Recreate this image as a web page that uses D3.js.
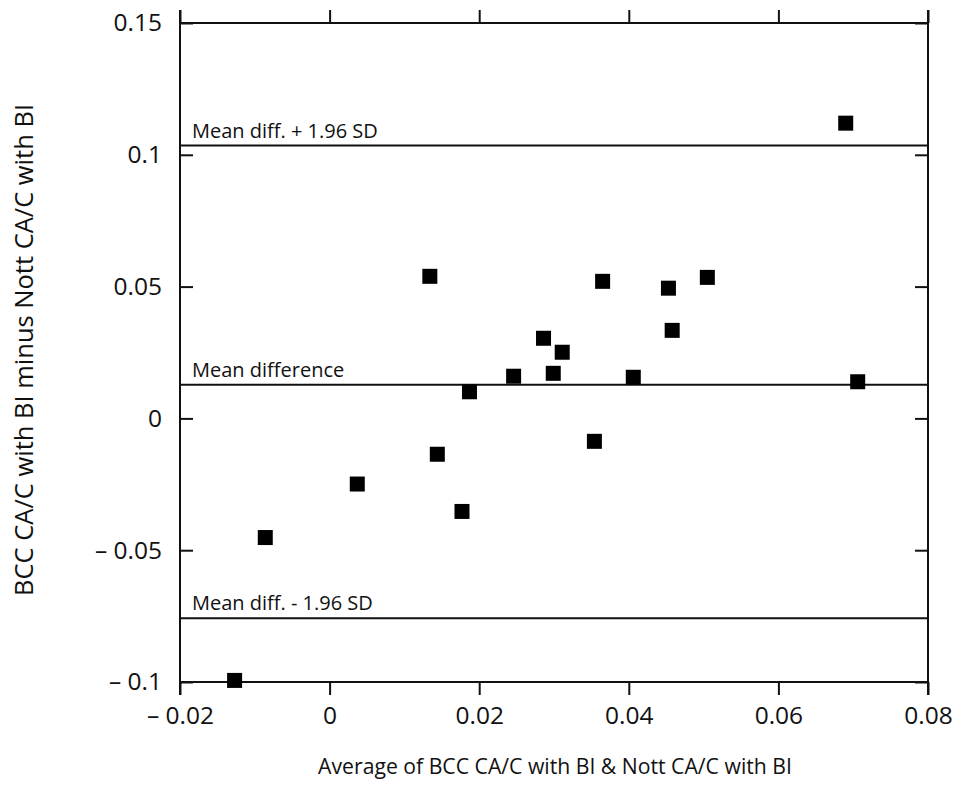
<!DOCTYPE html>
<meta charset="utf-8">
<html>
<head>
  <script src="https://d3js.org/d3.v7.min.js"></script>
  <style>
    body { margin: 0; background: #fff; }
    svg text { font-family: "Open Sans", "Noto Sans", sans-serif; fill: #111; }
  </style>
</head>
<body>
  <svg></svg>
  <script type="text/javascript">
    // data
    var avgValues  = [0.0134, 0.0365, 0.0453, 0.0505, 0.0458, 0.0286, 0.0311, 0.0246, 0.0299, 0.0406,
                      0.0187, 0.0354, 0.0144, 0.0037, 0.0177, -0.0086, -0.0127, 0.0690, 0.0706]
    var diffValues = [0.0539, 0.0520, 0.0494, 0.0535, 0.0334, 0.0304, 0.0251, 0.0160, 0.0171, 0.0156,
                      0.0101, -0.0087, -0.0136, -0.0249, -0.0353, -0.0452, -0.0994, 0.1120, 0.0139]
    var refLabels  = ['Mean diff. + 1.96 SD', 'Mean difference', 'Mean diff. - 1.96 SD']
    var refValues  = [0.1035, 0.0128, -0.0758]
    var xTicks = [-0.02, 0, 0.02, 0.04, 0.06, 0.08]
    var yTicks = [-0.1, -0.05, 0, 0.05, 0.1, 0.15]

    const width = 955, height = 797
    const plotLeft = 180, plotRight = 928, plotTop = 23, plotBottom = 682
    const tick = 13
    const font = '"Open Sans", "Noto Sans", sans-serif'

    const svg = d3.select('svg').attr('width', width).attr('height', height)

    const x = d3.scaleLinear().domain([-0.02, 0.08]).range([plotLeft, plotRight])
    const y = d3.scaleLinear().domain([-0.1, 0.15]).range([plotBottom, plotTop])

    const fmt = d3.format('')
    const label = d => d < 0 ? '\u2013 ' + fmt(-d) : fmt(d)

    function styleAxis(g) {
      g.select('.domain').remove()
      g.selectAll('line').attr('stroke', '#111').attr('stroke-width', 2)
      g.selectAll('text').attr('font-family', font).attr('fill', '#111')
    }

    // left: ticks inward, labels
    svg.append('g').attr('transform', `translate(${plotLeft},0)`)
      .call(d3.axisLeft(y).tickValues(yTicks).tickSize(-tick).tickPadding(18).tickFormat(label))
      .call(styleAxis)
      .selectAll('text').attr('font-size', 24.5)
    // right: ticks inward
    svg.append('g').attr('transform', `translate(${plotRight},0)`)
      .call(d3.axisRight(y).tickValues(yTicks).tickSize(-tick).tickFormat(''))
      .call(styleAxis)
    // bottom: ticks outward, labels
    svg.append('g').attr('transform', `translate(0,${plotBottom})`)
      .call(d3.axisBottom(x).tickValues(xTicks).tickSize(tick).tickPadding(12).tickFormat(label))
      .call(styleAxis)
      .selectAll('text').attr('font-size', 24.5)
    // top: ticks outward
    svg.append('g').attr('transform', `translate(0,${plotTop})`)
      .call(d3.axisTop(x).tickValues(xTicks).tickSize(tick).tickFormat(''))
      .call(styleAxis)

    // frame
    const frame = svg.append('g').attr('stroke', '#111').attr('stroke-width', 2)
    frame.append('line').attr('x1', plotLeft).attr('x2', plotLeft).attr('y1', plotTop - tick).attr('y2', plotBottom + tick)
    frame.append('line').attr('x1', plotRight).attr('x2', plotRight).attr('y1', plotTop - tick).attr('y2', plotBottom + tick)
    frame.append('line').attr('x1', plotLeft).attr('x2', plotRight).attr('y1', plotTop).attr('y2', plotTop)
    frame.append('line').attr('x1', plotLeft).attr('x2', plotRight).attr('y1', plotBottom).attr('y2', plotBottom)

    // reference lines
    const refs = svg.append('g')
    refs.selectAll('line').data(refValues).enter().append('line')
      .attr('x1', plotLeft).attr('x2', plotRight)
      .attr('y1', d => y(d)).attr('y2', d => y(d))
      .attr('stroke', '#111').attr('stroke-width', 2)
    refs.selectAll('text').data(refValues).enter().append('text')
      .attr('x', plotLeft + 12)
      .attr('y', d => y(d) - 8)
      .attr('font-size', 20)
      .text((d, i) => refLabels[i])

    // points
    const size = 15
    svg.append('g').selectAll('rect')
      .data(avgValues.map((v, i) => [v, diffValues[i]]))
      .enter().append('rect')
      .attr('x', d => x(d[0]) - size / 2)
      .attr('y', d => y(d[1]) - size / 2)
      .attr('width', size).attr('height', size)
      .attr('fill', '#000')

    // axis titles
    svg.append('text')
      .attr('x', 555)
      .attr('y', 774)
      .attr('text-anchor', 'middle')
      .attr('font-size', 21.2)
      .text('Average of BCC CA/C with BI & Nott CA/C with BI')

    svg.append('text')
      .attr('transform', `translate(33,350) rotate(-90)`)
      .attr('text-anchor', 'middle')
      .attr('font-size', 25.5)
      .text('BCC CA/C with BI minus Nott CA/C with BI')
  </script>
</body>
</html>
